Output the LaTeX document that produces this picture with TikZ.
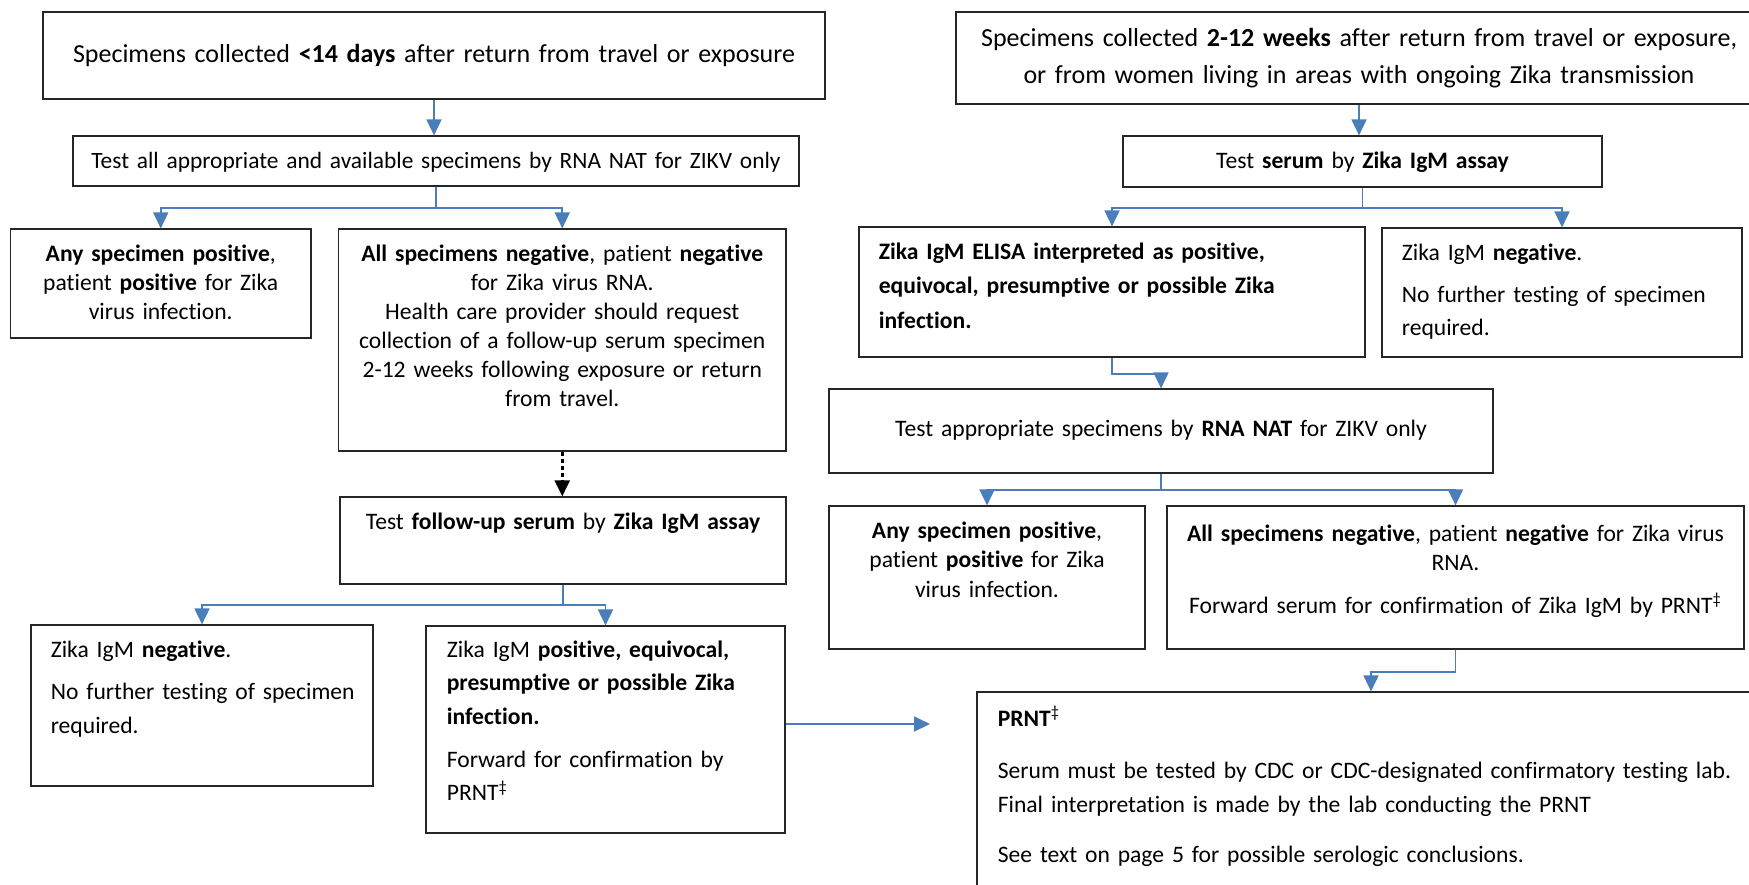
\documentclass[tikz,border=0pt]{standalone}
\usepackage{fontspec}
\setmainfont{Carlito}[Ligatures=NoCommon, WordSpace=0.8]
\usetikzlibrary{positioning,arrows.meta}
\definecolor{arrowblue}{HTML}{4A7EBB}
\def\ddag{\textsuperscript{‡}}

\begin{document}
\begin{tikzpicture}[x=0.5pt, y=-0.5pt,
  box/.style={draw=black!85, line width=0.6pt, rectangle, inner sep=0pt},
  txt/.style={inner sep=0pt, font=\fontsize{11.8}{14.5}\selectfont, align=center},
  ltxt/.style={inner sep=0pt, font=\fontsize{11.8}{14.5}\selectfont, align=left, text width=380pt},
  flow/.style={draw=arrowblue, line width=0.9pt, -{Triangle[length=8pt,width=7.5pt]}},
  later/.style={draw=black, line width=1.3pt, dash pattern=on 2pt off 1.5pt, -{Triangle[length=8pt,width=7.5pt]}}]
	\fill[white] (0,0) rectangle (1749,884);
	\clip (0,0) rectangle (1749,884);
	% left column
	\node[box, minimum width=391pt, minimum height=43.5pt] (a) at (434,55.5) {};
	\node[txt, text width=388pt, font=\fontsize{13}{15.5}\selectfont, below=25.5pt of a.north, anchor=base] (at) {Specimens collected \textbf{<14 days} after return from travel or exposure};
	\node[box, minimum width=363pt, minimum height=25pt] (b) at (436,161) {};
	\node[txt, text width=360pt, font=\fontsize{11.7}{14.5}\selectfont, below=16.5pt of b.north, anchor=base] (bt) {Test all appropriate and available specimens by RNA NAT for ZIKV only};
	\node[box, minimum width=150.25pt, minimum height=54.5pt] (c1) at (160.75,283.5) {};
	\node[txt, text width=149pt, below=16.5pt of c1.north, anchor=base] (c1t) {\textbf{Any specimen positive},\\ patient \textbf{positive} for Zika\\ virus infection.};
	\node[box, minimum width=223.75pt, minimum height=111pt] (c2) at (562.25,340) {};
	\node[txt, text width=222pt, below=16.5pt of c2.north, anchor=base] (c2t) {\textbf{All specimens negative}, patient \textbf{negative}\\ for Zika virus RNA.\\ Health care provider should request\\ collection of a follow-up serum specimen\\ 2-12 weeks following exposure or return\\ from travel.};
	\node[box, minimum width=223pt, minimum height=43.5pt] (d) at (563,540.5) {};
	\node[txt, text width=221pt, below=16.5pt of d.north, anchor=base] (dt) {Test \textbf{follow-up serum} by \textbf{Zika IgM assay}};
	\node[box, minimum width=171pt, minimum height=80.5pt] (e1) at (202,705.5) {};
	\node[ltxt, font=\fontsize{11.8}{17}\selectfont, below right=16.5pt and 10pt of e1.north west, anchor=base west] (e1t) {Zika IgM \textbf{negative}.\\[4pt] No further testing of specimen\\ required.};
	\node[box, minimum width=179.5pt, minimum height=103.5pt] (e2) at (605.5,729.5) {};
	\node[ltxt, font=\fontsize{11.8}{16.75}\selectfont, below right=16pt and 10.5pt of e2.north west, anchor=base west] (e2t) {Zika IgM \textbf{positive, equivocal,}\\ \textbf{presumptive or possible Zika}\\ \textbf{infection.}\\[4.75pt] Forward for confirmation by\\ PRNT\ddag};
	% right column
	\node[box, minimum width=403pt, minimum height=46pt] (f) at (1359,58) {};
	\node[txt, text width=400pt, font=\fontsize{13}{18.5}\selectfont, below=17.5pt of f.north, anchor=base] (ft) {Specimens collected \textbf{2-12 weeks} after return from travel or exposure,\\ or from women living in areas with ongoing Zika transmission};
	\node[box, minimum width=239.5pt, minimum height=25.5pt] (g) at (1362.5,161.5) {};
	\node[txt, text width=235pt, below=16.5pt of g.north, anchor=base] (gt) {Test \textbf{serum} by \textbf{Zika IgM assay}};
	\node[box, minimum width=253pt, minimum height=65pt] (h1) at (1112,292) {};
	\node[ltxt, font=\fontsize{11.8}{17.25}\selectfont, below right=16.5pt and 10pt of h1.north west, anchor=base west] (h1t) {\textbf{Zika IgM ELISA interpreted as positive,}\\ \textbf{equivocal, presumptive or possible Zika}\\ \textbf{infection.}};
	\node[box, minimum width=180pt, minimum height=64.5pt] (h2) at (1562,292.5) {};
	\node[ltxt, font=\fontsize{11.8}{16.5}\selectfont, below right=16.5pt and 10pt of h2.north west, anchor=base west] (h2t) {Zika IgM \textbf{negative}.\\[4.5pt] No further testing of specimen\\ required.};
	\node[box, minimum width=332pt, minimum height=42pt] (i) at (1161,431) {};
	\node[txt, text width=328pt, below=24pt of i.north, anchor=base] (it) {Test appropriate specimens by \textbf{RNA NAT} for ZIKV only};
	\node[box, minimum width=158pt, minimum height=71.5pt] (j1) at (987,577.5) {};
	\node[txt, text width=157pt, font=\fontsize{11.8}{14.75}\selectfont, below=16.5pt of j1.north, anchor=base] (j1t) {\textbf{Any specimen positive},\\ patient \textbf{positive} for Zika\\ virus infection.};
	\node[box, minimum width=288.5pt, minimum height=71.5pt] (j2) at (1455.5,577.5) {};
	\node[txt, text width=287pt, below=18pt of j2.north, anchor=base] (j2t) {\textbf{All specimens negative}, patient \textbf{negative} for Zika virus\\ RNA.\\[7pt] Forward serum for confirmation of Zika IgM by PRNT\ddag};
	\node[box, minimum width=394pt, minimum height=104pt] (k) at (1371,796) {};
	\node[ltxt, font=\fontsize{11.8}{17}\selectfont, below right=17.5pt and 10.5pt of k.north west, anchor=base west] (kt) {\textbf{PRNT}\ddag\\[9pt] Serum must be tested by CDC or CDC-designated confirmatory testing lab.\\ Final interpretation is made by the lab conducting the PRNT\\[8pt] See text on page 5 for possible serologic conclusions.};
	\coordinate (ktip) at (930,724);
	% connectors
	\draw[flow] (a.south) -- (a.south |- b.north);
	\draw[flow] (b.south) -- ++(0,21) -| (c1.north);
	\draw[flow] (b.south) -- ++(0,21) -| (c2.north);
	\draw[later] (c2.south) -- (c2.south |- d.north);
	\draw[flow] (d.south) -- ++(0,20) -| (e1.north);
	\draw[flow] (d.south) -- ++(0,20) -| (e2.north);
	\draw[flow] (e2.east |- ktip) -- (ktip);
	\draw[flow] (f.south) -- (f.south |- g.north);
	\draw[flow] (g.south) -- ++(0,20) -| (h1.north);
	\draw[flow] (g.south) -- ++(0,20) -| (h2.north);
	\draw[flow] (h1.south) -- ++(0,16) -| (i.north);
	\draw[flow] (i.south) -- ++(0,16) -| (j1.north);
	\draw[flow] (i.south) -- ++(0,16) -| (j2.north);
	\draw[flow] (j2.south) -- ++(0,22) -| (k.north);
\end{tikzpicture}
\end{document}
